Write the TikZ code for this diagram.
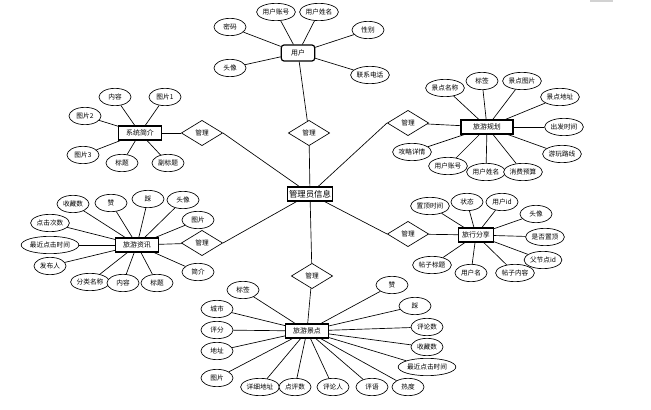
\documentclass[tikz,border=0pt]{standalone}
\usepackage{fontspec}
\setmainfont{Noto Sans CJK SC}
\usetikzlibrary{shapes.geometric}

\begin{document}
\begin{tikzpicture}[x=0.75pt,y=0.75pt,yscale=-1,xscale=1,
  entity/.style={draw,line width=0.9pt,fill=white,inner sep=1pt,minimum width=32pt,minimum height=10.5pt,font=\fontsize{5.2}{6}\selectfont},
  attr/.style={draw,ellipse,line width=0.5pt,fill=white,inner xsep=0.3pt,inner ysep=1pt,minimum width=24pt,minimum height=13pt,font=\fontsize{5}{6}\selectfont},
  rel/.style={draw,diamond,line width=0.5pt,fill=white,inner sep=0pt,minimum width=31pt,minimum height=19pt,font=\fontsize{5}{6}\selectfont},
  link/.style={line width=0.5pt}
]
\useasboundingbox (0,0) rectangle (651,410);
\draw [gray!35,line width=1pt] (590,1) -- (613,1) ;

% Centre
\node [entity,minimum width=34pt,font=\fontsize{6.3}{7}\selectfont] (admin) at (310,194) {管理员信息};

% Users
\node [entity,rounded corners=2pt,minimum width=25pt,minimum height=12pt] (u) at (298,53) {用户};
\node [attr] (u1) at (230,27) {密码};
\node [attr] (u2) at (276,12) {用户账号};
\node [attr] (u3) at (319,12) {用户姓名};
\node [attr] (u4) at (368,30) {性别};
\node [attr] (u5) at (230,68) {头像};
\node [attr] (u6) at (370,75) {联系电话};
\node [rel] (m1) at (309,133) {管理};

% System intro
\node [entity] (s) at (140,133) {系统简介};
\node [attr] (s1) at (115,97) {内容};
\node [attr] (s2) at (165,97) {图片1};
\node [attr] (s3) at (85,116) {图片2};
\node [attr] (s4) at (83,155) {图片3};
\node [attr] (s5) at (122,163) {标题};
\node [attr] (s6) at (168,163) {副标题};
\node [rel] (m2) at (202,133) {管理};

% Travel plan
\node [entity,minimum width=39pt] (p) at (487,127) {旅游规划};
\node [attr] (p1) at (445,88) {景点名称};
\node [attr] (p2) at (482,81) {标签};
\node [attr] (p3) at (522,81) {景点图片};
\node [attr] (p4) at (560,97) {景点地址};
\node [attr] (p5) at (564,127) {出发时间};
\node [attr] (p6) at (562,154) {游玩路线};
\node [attr] (p7) at (412,152) {攻略详情};
\node [attr] (p8) at (448,166) {用户账号};
\node [attr] (p9) at (486,172) {用户姓名};
\node [attr] (p10) at (523,172) {消费预算};
\node [rel] (m3) at (408,123) {管理};

% Travel news
\node [entity] (n) at (137,245) {旅游资讯};
\node [attr] (n1) at (73,204) {收藏数};
\node [attr] (n2) at (111,203) {赞};
\node [attr] (n3) at (148,199) {踩};
\node [attr] (n4) at (183,200) {头像};
\node [attr] (n5) at (198,220) {图片};
\node [attr] (n6) at (50,223) {点击次数};
\node [attr] (n7) at (50,245) {最近点击时间};
\node [attr] (n8) at (50,266) {发布人};
\node [attr] (n9) at (90,282) {分类名称};
\node [attr] (n10) at (123,283) {内容};
\node [attr] (n11) at (157,283) {标题};
\node [attr] (n12) at (198,272) {简介};
\node [rel] (m4) at (202,243) {管理};

% Travel sharing
\node [entity,minimum width=26pt] (f) at (476,235) {旅行分享};
\node [attr] (f1) at (430,206) {置顶时间};
\node [attr] (f2) at (467,202) {状态};
\node [attr] (f3) at (502,202) {用户id};
\node [attr] (f4) at (536,214) {头像};
\node [attr] (f5) at (545,237) {是否置顶};
\node [attr] (f6) at (543,260) {父节点id};
\node [attr] (f7) at (432,265) {帖子标题};
\node [attr] (f8) at (471,273) {用户名};
\node [attr] (f9) at (515,273) {帖子内容};
\node [rel] (m5) at (408,234) {管理};

% Scenic spots
\node [entity] (t) at (307,331) {旅游景点};
\node [attr] (t1) at (243,290) {标签};
\node [attr] (t2) at (217,309) {城市};
\node [attr] (t3) at (217,330) {评分};
\node [attr] (t4) at (217,351) {地址};
\node [attr] (t5) at (217,378) {图片};
\node [attr] (t6) at (260,387) {详细地址};
\node [attr] (t7) at (295,387) {点评数};
\node [attr] (t8) at (333,387) {评论人};
\node [attr] (t9) at (372,387) {评语};
\node [attr] (t10) at (408,387) {热度};
\node [attr] (t11) at (392,285) {赞};
\node [attr] (t12) at (415,306) {踩};
\node [attr] (t13) at (427,327) {评论数};
\node [attr] (t14) at (427,347) {收藏数};
\node [attr] (t15) at (427,367) {最近点击时间};
\node [rel] (m6) at (312,276) {管理};

% Links
\foreach \i in {1,...,6} \draw [link] (u) -- (u\i);
\foreach \i in {1,...,6} \draw [link] (s) -- (s\i);
\foreach \i in {1,...,10} \draw [link] (p) -- (p\i);
\foreach \i in {1,...,12} \draw [link] (n) -- (n\i);
\foreach \i in {1,...,9} \draw [link] (f) -- (f\i);
\foreach \i in {1,...,15} \draw [link] (t) -- (t\i);

\draw [link] (u) -- (m1) -- (admin);
\draw [link] (s) -- (m2);
\draw [link] (m2.east) -- (admin);
\draw [link] (p) -- (m3);
\draw [link] (m3.west) -- (admin);
\draw [link] (n) -- (m4);
\draw [link] (m4.east) -- (admin);
\draw [link] (f) -- (m5);
\draw [link] (m5.west) -- (admin);
\draw [link] (admin) -- (m6) -- (t);

\end{tikzpicture}
\end{document}
